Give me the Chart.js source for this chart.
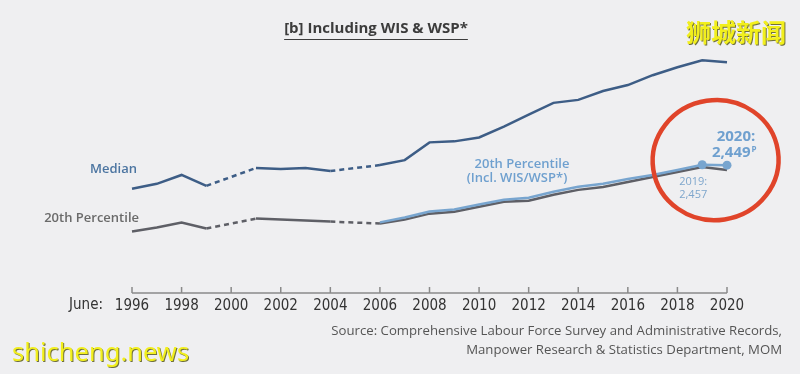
<!DOCTYPE html>
<html>
<head>
<meta charset="utf-8">
<script src="https://cdn.jsdelivr.net/npm/chart.js@4"></script>
<style>
  html, body { margin: 0; padding: 0; background: #efeff1; }
  #wrap { position: relative; width: 800px; height: 374px; }
</style>
</head>
<body>
<div id="wrap"><canvas id="wageChart" width="800" height="374"></canvas></div>
<script>
// === Données (salaire mensuel brut, S$) ===
const years = [1996, 1997, 1998, 1999, 2000, 2001, 2002, 2003, 2004, 2005, 2006, 2007, 2008,
               2009, 2010, 2011, 2012, 2013, 2014, 2015, 2016, 2017, 2018, 2019, 2020];
const median = [1970, 2070, 2250, 2030, null, 2390, 2370, 2390, 2330, null, 2450, 2550, 2910,
                2930, 3010, 3230, 3470, 3710, 3770, 3950, 4070, 4270, 4430, 4570, 4534];
const p20 = [1106, 1186, 1286, 1166, null, 1366, 1346, 1326, 1306, null, 1266, 1346, 1467,
             1507, 1607, 1707, 1727, 1848, 1948, 2008, 2108, 2208, 2309, 2409, 2349];
const p20Incl = [null, null, null, null, null, null, null, null, null, null, 1290, 1390, 1510,
                 1550, 1650, 1750, 1790, 1910, 2010, 2070, 2170, 2250, 2350, 2457, 2449];
const tickYears = [1996, 1998, 2000, 2002, 2004, 2006, 2008, 2010, 2012, 2014, 2016, 2018, 2020];

const NARROW = '"Liberation Sans Narrow", "DejaVu Sans Condensed", sans-serif';
const SANS = '"Open Sans", "Noto Sans", sans-serif';

const toPoints = vals => years.map((yr, i) => ({ x: yr, y: vals[i] }));
const gapDash = ctx => (ctx.p0.skip || ctx.p1.skip) ? [5, 4] : undefined;

// === Axe, textes et annotations ===
const decorPlugin = {
  id: 'decor',
  beforeDatasetsDraw(chart) {
    const { ctx, chartArea, scales: { x } } = chart;
    const yAxis = chartArea.bottom;
    ctx.save();
    ctx.strokeStyle = '#8a8a8a';
    ctx.lineWidth = 1.5;
    ctx.beginPath();
    ctx.moveTo(x.getPixelForValue(1996), yAxis);
    ctx.lineTo(x.getPixelForValue(2020), yAxis);
    tickYears.forEach(t => {
      const px = x.getPixelForValue(t);
      ctx.moveTo(px, yAxis);
      ctx.lineTo(px, yAxis - 6);
    });
    ctx.stroke();
    ctx.restore();
  },
  afterDraw(chart) {
    const { ctx, scales: { x, y } } = chart;
    ctx.save();
    ctx.textBaseline = 'middle';

    // titre souligné
    ctx.font = 'bold 15px ' + SANS;
    ctx.fillStyle = '#3c3c3c';
    ctx.textAlign = 'center';
    const title = '[b] Including WIS & WSP*';
    ctx.fillText(title, 376, 29);
    const tw = ctx.measureText(title).width;
    ctx.strokeStyle = '#3c3c3c';
    ctx.lineWidth = 1;
    ctx.beginPath();
    ctx.moveTo(376 - tw / 2, 39.5);
    ctx.lineTo(376 + tw / 2, 39.5);
    ctx.stroke();

    // libellés des séries
    ctx.textAlign = 'right';
    ctx.font = '600 13px ' + SANS;
    ctx.fillStyle = '#4c75a1';
    ctx.fillText('Median', 137, 169);
    ctx.fillStyle = '#6a6a6a';
    ctx.fillText('20th Percentile', 139, 218);

    ctx.textAlign = 'center';
    ctx.fillStyle = '#6fa0cf';
    ctx.fillText('20th Percentile', 522, 164);
    ctx.fillText('(Incl. WIS/WSP*)', 517, 178);

    // valeurs 2019 / 2020
    const px19 = x.getPixelForValue(2019);
    const px20 = x.getPixelForValue(2020);
    const py20 = y.getPixelForValue(2449);
    ctx.font = 'bold 15px ' + SANS;
    ctx.fillText('2020:', 736, 137);
    ctx.textAlign = 'left';
    ctx.fillText('2,449', 712, 153);
    const vw = ctx.measureText('2,449').width;
    ctx.font = 'bold 8px ' + SANS;
    ctx.fillText('P', 712 + vw + 1, 150);
    ctx.font = '11px ' + SANS;
    ctx.fillStyle = '#7ea6cc';
    ctx.textAlign = 'center';
    ctx.fillText('2019:', px19 - 9, 182);
    ctx.fillText('2,457', px19 - 9, 195);

    // cercle rouge
    ctx.strokeStyle = '#e0442a';
    ctx.lineWidth = 4.5;
    ctx.beginPath();
    ctx.ellipse((px19 + px20) / 2 + 1, py20 - 5, 63, 60, -0.15, 0, Math.PI * 2);
    ctx.stroke();

    // "June:"
    ctx.font = '15px ' + NARROW;
    ctx.fillStyle = '#333';
    ctx.textAlign = 'right';
    ctx.fillText('June:', 103, 305);

    // source
    ctx.font = '13.2px ' + SANS;
    ctx.fillStyle = '#555';
    ctx.fillText('Source: Comprehensive Labour Force Survey and Administrative Records,', 782, 331);
    ctx.fillText('Manpower Research & Statistics Department, MOM', 782, 350);

    // filigranes
    ctx.shadowColor = 'rgba(70, 70, 0, 0.75)';
    ctx.shadowOffsetX = 1;
    ctx.shadowOffsetY = 1;
    ctx.fillStyle = '#f2ef1c';
    ctx.font = 'bold 25px "Noto Sans CJK SC", sans-serif';
    ctx.textAlign = 'right';
    ctx.fillText('狮城新闻', 786, 32);
    ctx.font = '25.5px "Noto Sans", sans-serif';
    ctx.textAlign = 'left';
    ctx.fillText('shicheng.news', 12, 354);
    ctx.restore();
  }
};

new Chart(document.getElementById('wageChart'), {
  type: 'line',
  data: {
    datasets: [
      {
        label: '20th Percentile (Incl. WIS/WSP*)',
        data: toPoints(p20Incl),
        borderColor: '#78a5cf',
        backgroundColor: '#78a5cf',
        borderWidth: 2.5,
        pointRadius: ctx => ctx.dataIndex >= years.length - 2 ? 4.5 : 0,
        pointBorderWidth: 0,
        tension: 0,
        clip: false,
        order: 1
      },
      {
        label: '20th Percentile',
        data: toPoints(p20),
        borderColor: '#5e5f66',
        borderWidth: 2.5,
        pointRadius: 0,
        spanGaps: true,
        segment: { borderDash: gapDash },
        tension: 0,
        clip: false,
        order: 2
      },
      {
        label: 'Median',
        data: toPoints(median),
        borderColor: '#3d5d86',
        borderWidth: 2.5,
        pointRadius: 0,
        spanGaps: true,
        segment: { borderDash: gapDash },
        tension: 0,
        clip: false,
        order: 3
      }
    ]
  },
  options: {
    responsive: false,
    animation: false,
    layout: { padding: { left: 132, right: 73, top: 50, bottom: 55 } },
    plugins: {
      legend: { display: false },
      tooltip: { enabled: false }
    },
    scales: {
      x: {
        type: 'linear',
        min: 1996,
        max: 2020,
        grid: { display: false, drawTicks: false },
        border: { display: false },
        ticks: {
          stepSize: 2,
          padding: 4,
          color: '#333',
          font: { family: NARROW, size: 15 },
          callback: v => String(v)
        }
      },
      y: {
        display: false,
        min: -140,
        max: 4780
      }
    }
  },
  plugins: [decorPlugin]
});
</script>
</body>
</html>
